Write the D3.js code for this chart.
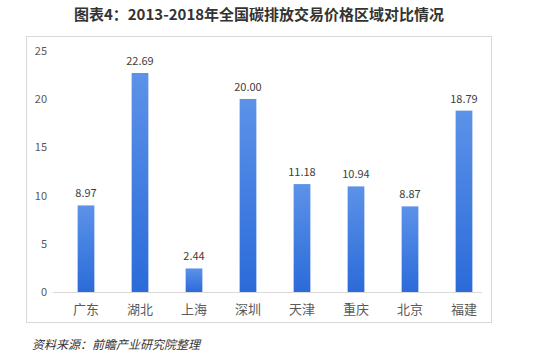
<!DOCTYPE html>
<html><head><meta charset="utf-8">
<script src="https://cdn.jsdelivr.net/npm/d3@7"></script>
<style>body{margin:0;background:#fff;}svg{display:block;}</style>
</head><body>
<svg id="c" width="537" height="360"></svg>
<script>
const categories = ["广东","湖北","上海","深圳","天津","重庆","北京","福建"];
const values = [8.97, 22.69, 2.44, 20.00, 11.18, 10.94, 8.87, 18.79];
const valueLabels = ["8.97","22.69","2.44","20.00","11.18","10.94","8.87","18.79"];
const yTicks = [0,5,10,15,20,25];
const title = "图表4：2013-2018年全国碳排放交易价格区域对比情况";
const source = "资料来源：前瞻产业研究院整理";

const svg = d3.select("#c");
const font = "'Microsoft YaHei','Noto Sans CJK SC','DejaVu Sans',sans-serif";

const defs = svg.append("defs");
const g = defs.append("linearGradient").attr("id","bg").attr("x1",0).attr("y1",0).attr("x2",0).attr("y2",1);
g.append("stop").attr("offset","0%").attr("stop-color","#5c92e8");
g.append("stop").attr("offset","100%").attr("stop-color","#2b6bd9");

svg.append("text").attr("x",259).attr("y",20).attr("text-anchor","middle")
  .attr("font-family",font).attr("font-weight","bold").attr("font-size",15).attr("fill","#333")
  .text(title);

svg.append("rect").attr("x",26.5).attr("y",36.5).attr("width",465).attr("height",286)
  .attr("fill","#fff").attr("stroke","#d9d9d9");

const x = d3.scaleBand().domain(categories).range([59,491]).paddingInner(0.69).paddingOuter(0.345);
const y = d3.scaleLinear().domain([0,25]).range([292,50.7]);

svg.append("line").attr("x1",53).attr("x2",482).attr("y1",y(0)+0.5).attr("y2",y(0)+0.5)
  .attr("stroke","#d9d9d9");

const yAxis = d3.axisLeft(y).tickValues(yTicks).tickSize(0).tickPadding(0);
const ya = svg.append("g").attr("transform","translate(47,0)").call(yAxis);
ya.select(".domain").remove();
ya.selectAll("text").attr("font-family",font).attr("font-size",11).attr("fill","#595959");

svg.selectAll("rect.bar").data(values).enter().append("rect").attr("class","bar")
  .attr("x",(d,i)=>x(categories[i])).attr("width",x.bandwidth())
  .attr("y",d=>y(d)).attr("height",d=>y(0)-y(d)).attr("fill","url(#bg)");

svg.selectAll("text.vl").data(values).enter().append("text").attr("class","vl")
  .attr("x",(d,i)=>x(categories[i])+x.bandwidth()/2).attr("y",d=>y(d)-8)
  .attr("text-anchor","middle").attr("font-family",font).attr("font-size",11).attr("fill","#404040")
  .text((d,i)=>valueLabels[i]);

const xAxis = d3.axisBottom(x).tickSize(0).tickPadding(0);
const xa = svg.append("g").attr("transform","translate(0,292)").call(xAxis);
xa.select(".domain").remove();
xa.selectAll("text").attr("dy",null).attr("y",22).attr("font-family",font).attr("font-size",13).attr("fill","#595959");

svg.append("text").attr("x",32).attr("y",349).attr("font-family",font).attr("font-style","italic")
  .attr("font-size",12).attr("fill","#333").text(source);
</script>
</body></html>
